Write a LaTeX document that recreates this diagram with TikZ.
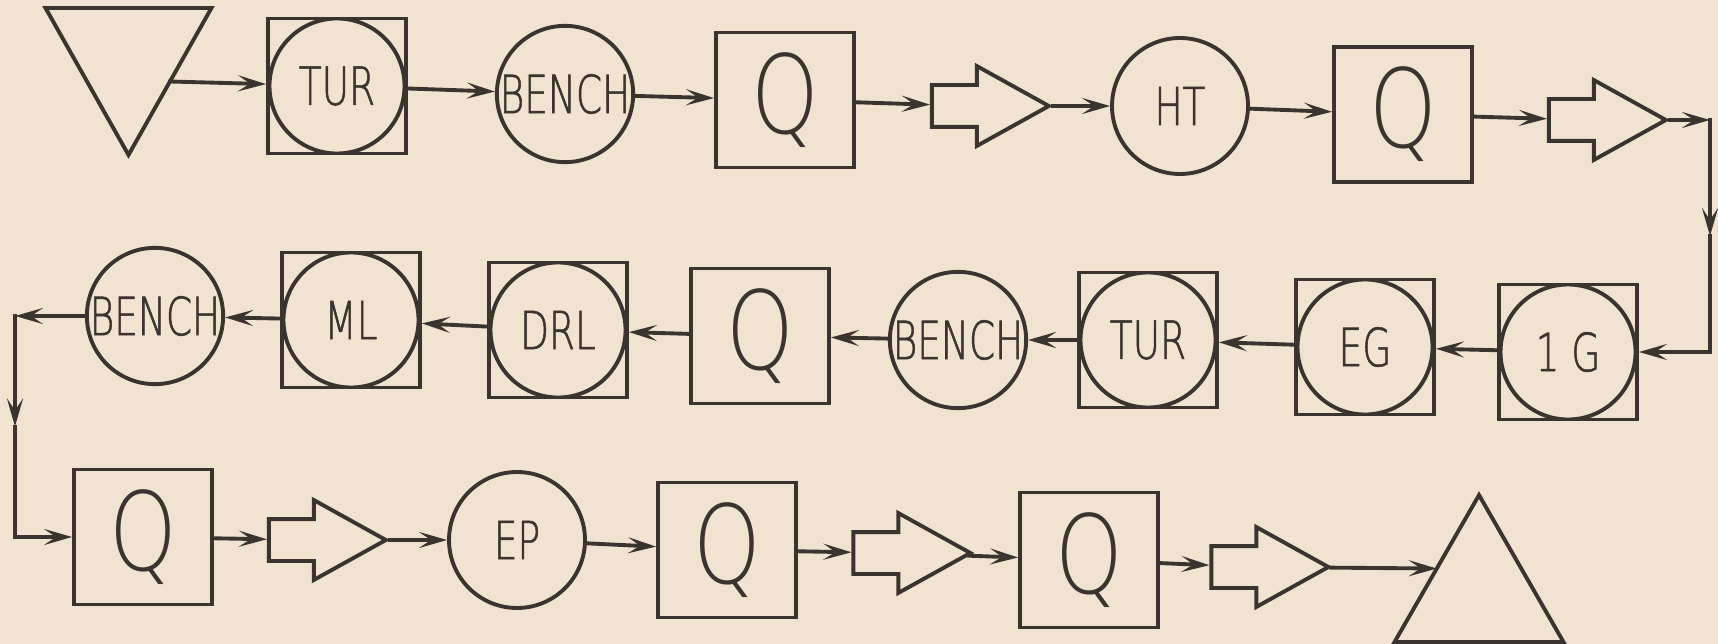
\documentclass[tikz,border=0pt]{standalone}
\usepackage{fontspec}
\newfontfamily\thin{DejaVu Sans ExtraLight}[FakeStretch=0.71, FakeBold=1]
\newfontfamily\qfont{DejaVu Sans ExtraLight}[FakeStretch=0.79]
\usetikzlibrary{shapes.arrows, arrows.meta, calc}
\definecolor{paper}{RGB}{240,227,207}
\definecolor{ink}{RGB}{58,52,46}

\begin{document}
\begin{tikzpicture}[
		color=ink, line width=1.1pt,
		every node/.style={inner sep=0pt, font=\thin\fontsize{15}{15}\selectfont},
		box/.style={draw, rectangle, minimum width=1.38cm, minimum height=1.35cm},
		ring/.style={draw, circle, minimum size=1.36cm},
		boxring/.style={box, path picture={\draw (path picture bounding box.center) circle (0.675cm);}},
		qbox/.style={box, font=\qfont\fontsize{31}{31}\selectfont},
		move/.style={draw, single arrow, single arrow tip angle=58, single arrow head extend=0.19cm, inner ysep=0.19cm, minimum height=1.17cm, minimum width=0.76cm},
		spot/.style={minimum width=1.62cm, minimum height=1.43cm},
		arrow/.style={line cap=rect, -{Stealth[length=2.8mm, width=1.6mm, inset=1.2mm]}},
	]
	\fill[paper] (0,0) rectangle (17.18,-6.44);
	\useasboundingbox (0,0) rectangle (17.18,-6.44);

	\node[spot]    (src)    at (1.285,-0.815) {};
	\node[boxring] (tur1)   at (3.37,-0.86)   {TUR};
	\node[ring]    (bench1) at (5.65,-0.94)   {BENCH};
	\node[qbox]    (q1)     at (7.85,-1.00)   {Q};
	\node[move]    (blk1)   at (9.715,-1.06)  {};
	\node[ring]    (ht)     at (11.80,-1.06)  {HT};
	\node[qbox]    (q2)     at (14.03,-1.145) {Q};
	\node[move]    (blk2)   at (15.885,-1.20) {};
	\coordinate    (c1)     at (17.10,-1.20);
	\coordinate    (c2)     at (17.10,-3.52);

	\node[boxring] (ig)     at (15.68,-3.52)  {1 G};
	\node[boxring] (eg)     at (13.65,-3.47)  {EG};
	\node[boxring] (tur2)   at (11.48,-3.40)  {TUR};
	\node[ring]    (bench2) at (9.58,-3.40)   {BENCH};
	\node[qbox]    (q3)     at (7.60,-3.36)   {Q};
	\node[boxring] (drl)    at (5.58,-3.30)   {DRL};
	\node[boxring] (ml)     at (3.51,-3.20)   {ML};
	\node[ring]    (bench3) at (1.55,-3.16)   {BENCH};
	\coordinate    (c3)     at (0.15,-3.16);
	\coordinate    (c4)     at (0.15,-5.37);

	\node[qbox]    (q4)     at (1.43,-5.37)   {Q};
	\node[move]    (blk3)   at (3.085,-5.40)  {};
	\node[ring]    (ep)     at (5.17,-5.40)   {EP};
	\node[qbox]    (q5)     at (7.27,-5.50)   {Q};
	\node[move]    (blk4)   at (8.93,-5.53)   {};
	\node[qbox]    (q6)     at (10.89,-5.60)  {Q};
	\node[move]    (blk5)   at (12.51,-5.67)  {};
	\node[spot, minimum width=1.65cm] (sink) at (14.79,-5.685) {};

	\draw (src.north west) -- (src.north east) -- (src.south) -- cycle;
	\draw (sink.south west) -- (sink.north) -- (sink.south east) -- cycle;
	\coordinate (srcout) at ($(src.north east)!.5!(src.south)$);
	\coordinate (sinkin) at ($(sink.south west)!.5!(sink.north)$);
	\coordinate (m1) at ($(c1)!.5!(c2)$);
	\coordinate (m2) at ($(c3)!.5!(c4)$);

	\draw[arrow] (srcout) -- (tur1);
	\draw[arrow] (tur1)   -- (bench1);
	\draw[arrow] (bench1) -- (q1);
	\draw[arrow] (q1)     -- (blk1);
	\draw[arrow] (blk1)   -- (ht);
	\draw[arrow] (ht)     -- (q2);
	\draw[arrow] (q2)     -- (blk2);
	\draw[arrow] (blk2)   -- (c1);
	\draw[arrow] (c1)     -- (m1);
	\draw[line cap=rect] (m1) -- (c2);
	\draw[arrow] (c2)     -- (ig);
	\draw[arrow] (ig)     -- (eg);
	\draw[arrow] (eg)     -- (tur2);
	\draw[arrow] (tur2)   -- (bench2);
	\draw[arrow] (bench2) -- (q3);
	\draw[arrow] (q3)     -- (drl);
	\draw[arrow] (drl)    -- (ml);
	\draw[arrow] (ml)     -- (bench3);
	\draw[arrow] (bench3) -- (c3);
	\draw[arrow] (c3)     -- (m2);
	\draw[line cap=rect] (m2) -- (c4);
	\draw[arrow] (c4)     -- (q4);
	\draw[arrow] (q4)     -- (blk3);
	\draw[arrow] (blk3)   -- (ep);
	\draw[arrow] (ep)     -- (q5);
	\draw[arrow] (q5)     -- (blk4);
	\draw[arrow] (blk4)   -- (q6);
	\draw[arrow] (q6)     -- (blk5);
	\draw[arrow] (blk5)   -- (sinkin);
\end{tikzpicture}
\end{document}
